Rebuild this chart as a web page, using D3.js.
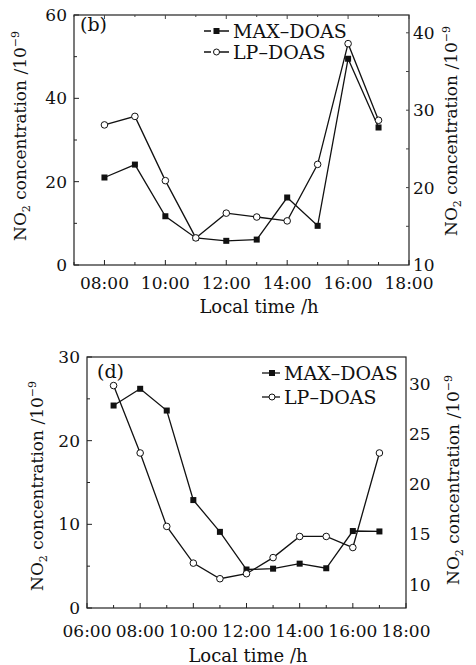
<!DOCTYPE html>
<html>
<head>
<meta charset="utf-8">
<script src="https://cdn.jsdelivr.net/npm/d3@7"></script>
<style>
body { margin: 0; background: #fff; }
svg text { font-family: "DejaVu Serif", "Liberation Serif", serif; fill: #111; }
</style>
</head>
<body>
<script>
// panel (b)
var hoursB = [8, 9, 10, 11, 12, 13, 14, 15, 16, 17];
var maxB = [21.0, 24.1, 11.7, 6.5, 5.8, 6.1, 16.2, 9.4, 49.5, 33.0];
var lpB = [28.1, 29.2, 20.9, 13.5, 16.7, 16.2, 15.7, 23.0, 38.6, 28.7];
var xTicksB = [8, 10, 12, 14, 16, 18];
var leftTicksB = [0, 20, 40, 60];
var rightTicksB = [10, 20, 30, 40];

// panel (d)
var hoursD = [7, 8, 9, 10, 11, 12, 13, 14, 15, 16, 17];
var maxD = [24.2, 26.2, 23.6, 12.9, 9.1, 4.6, 4.7, 5.3, 4.75, 9.2, 9.15];
var lpD = [29.8, 23.1, 15.8, 12.15, 10.6, 11.1, 12.7, 14.8, 14.8, 13.7, 23.1];
var xTicksD = [6, 8, 10, 12, 14, 16, 18];
var leftTicksD = [0, 10, 20, 30];
var rightTicksD = [10, 15, 20, 25, 30];

var seriesNames = ["MAX\u2013DOAS", "LP\u2013DOAS"];

var svg = d3.select("body").append("svg")
	.attr("width", 476)
	.attr("height", 665);

function hourLabel(h){
	return d3.format("02d")(h) + ":00";
}

function yTitle(g, x, y){
	var t = g.append("text")
		.attr("transform", "translate(" + x + "," + y + ") rotate(-90)")
		.attr("text-anchor", "middle")
		.style("font-size", "17px");
	t.append("tspan").text("NO");
	t.append("tspan").attr("dy", 4).style("font-size", "11px").text("2");
	t.append("tspan").attr("dy", -4).text(" concentration /10");
	t.append("tspan").attr("dy", -7).style("font-size", "11px").text("\u22129");
}

function drawPanel(p){
	var g = svg.append("g");
	var x = d3.scaleLinear().domain(p.xDomain).range([p.left, p.right]);
	var yL = d3.scaleLinear().domain(p.leftDomain).range([p.bottom, p.top]);
	var yR = d3.scaleLinear().domain(p.rightDomain).range([p.bottom, p.top]);

	// frame
	g.append("rect")
		.attr("x", p.left).attr("y", p.top)
		.attr("width", p.right - p.left).attr("height", p.bottom - p.top)
		.attr("fill", "none").attr("stroke", "#222").attr("stroke-width", 1.2);

	// x ticks (inward), minor every hour
	var hrs = d3.range(p.xDomain[0], p.xDomain[1] + 1);
	g.selectAll(".xt").data(hrs).enter().append("line")
		.attr("x1", function(d){ return x(d); })
		.attr("x2", function(d){ return x(d); })
		.attr("y1", p.bottom)
		.attr("y2", function(d){ return p.bottom - (d % 2 == 0 ? 5 : 3); })
		.attr("stroke", "#222");
	if(p.topTicks){
		g.selectAll(".xtt").data(hrs).enter().append("line")
			.attr("x1", function(d){ return x(d); })
			.attr("x2", function(d){ return x(d); })
			.attr("y1", p.top)
			.attr("y2", function(d){ return p.top + (d % 2 == 0 ? 4 : 2); })
			.attr("stroke", "#444");
	}
	g.selectAll(".xl").data(p.xTicks).enter().append("text")
		.attr("x", function(d){ return x(d); })
		.attr("y", p.xLabelY)
		.attr("text-anchor", "middle")
		.style("font-size", "17px")
		.text(hourLabel);

	// left ticks
	var step = p.leftTicks[1] - p.leftTicks[0];
	var lminor = d3.range(p.leftDomain[0], p.leftDomain[1] + 0.01, step / 2);
	g.selectAll(".yt").data(lminor).enter().append("line")
		.attr("x1", p.left)
		.attr("x2", function(d, i){ return p.left + (i % 2 == 0 ? 5 : 3); })
		.attr("y1", function(d){ return yL(d); })
		.attr("y2", function(d){ return yL(d); })
		.attr("stroke", "#222");
	g.selectAll(".yl").data(p.leftTicks).enter().append("text")
		.attr("x", p.left - 7)
		.attr("y", function(d){ return yL(d) + 6; })
		.attr("text-anchor", "end")
		.style("font-size", "17px")
		.text(function(d){ return d; });

	// right ticks
	if(p.rightMinor){
		g.selectAll(".rt").data(p.rightMinor).enter().append("line")
			.attr("x1", p.right)
			.attr("x2", p.right - 3)
			.attr("y1", function(d){ return yR(d); })
			.attr("y2", function(d){ return yR(d); })
			.attr("stroke", "#444");
	}
	g.selectAll(".rl").data(p.rightTicks).enter().append("text")
		.attr("x", p.right + p.rightGap)
		.attr("y", function(d){ return yR(d) + 6; })
		.attr("text-anchor", "start")
		.style("font-size", "17px")
		.text(function(d){ return d; });

	// lines
	var lineL = d3.line()
		.x(function(d, i){ return x(p.hours[i]); })
		.y(function(d){ return yL(d); });
	var lineR = d3.line()
		.x(function(d, i){ return x(p.hours[i]); })
		.y(function(d){ return yR(d); });
	g.append("path").attr("d", lineR(p.lp))
		.attr("fill", "none").attr("stroke", "#111").attr("stroke-width", 1.3);
	g.append("path").attr("d", lineL(p.max))
		.attr("fill", "none").attr("stroke", "#111").attr("stroke-width", 1.3);

	g.selectAll(".sq").data(p.max).enter().append("rect")
		.attr("x", function(d, i){ return x(p.hours[i]) - 3; })
		.attr("y", function(d){ return yL(d) - 3; })
		.attr("width", 6).attr("height", 6)
		.attr("fill", "#111");
	g.selectAll(".ci").data(p.lp).enter().append("circle")
		.attr("cx", function(d, i){ return x(p.hours[i]); })
		.attr("cy", function(d){ return yR(d); })
		.attr("r", 3.3)
		.attr("fill", "#fff").attr("stroke", "#111").attr("stroke-width", 1);

	// panel letter
	g.append("text")
		.attr("x", p.letterX).attr("y", p.letterY)
		.style("font-size", "19px")
		.text(p.letter);

	// legend
	seriesNames.forEach(function(name, i){
		var ly = p.legendY + i * p.legendGap;
		g.append("line")
			.attr("x1", p.legendX1).attr("x2", p.legendX2)
			.attr("y1", ly).attr("y2", ly)
			.attr("stroke", "#111").attr("stroke-width", 1.3)
			.attr("stroke-dasharray", p.legendDash);
		var mx = (p.legendX1 + p.legendX2) / 2 + p.legendMarkOff;
		if(i == 0){
			g.append("rect").attr("x", mx - 3).attr("y", ly - 3)
				.attr("width", 6).attr("height", 6).attr("fill", "#111");
		}
		else{
			g.append("circle").attr("cx", mx).attr("cy", ly).attr("r", 3)
				.attr("fill", "#fff").attr("stroke", "#111");
		}
		g.append("text")
			.attr("x", p.legendX2 + 4).attr("y", ly + 7)
			.style("font-size", "19px")
			.text(name);
	});

	// axis titles
	g.append("text")
		.attr("x", p.xTitleX).attr("y", p.xTitleY)
		.attr("text-anchor", "middle")
		.style("font-size", "18px")
		.text("Local time /h");
	yTitle(g, p.yTitleLX, p.yTitleLY);
	yTitle(g, p.yTitleRX, p.yTitleRY);
}

drawPanel({
	hours: hoursB, max: maxB, lp: lpB,
	xTicks: xTicksB, leftTicks: leftTicksB, rightTicks: rightTicksB,
	xDomain: [7, 18], leftDomain: [0, 60], rightDomain: [10, 42.3],
	rightMinor: [15, 20, 25, 30, 35, 40],
	left: 74, right: 409, top: 15, bottom: 265,
	topTicks: true,
	xLabelY: 289, rightGap: 4,
	letter: "(b)", letterX: 80, letterY: 31,
	legendX1: 204, legendX2: 229, legendMarkOff: 0, legendDash: "7,4,14,4,7",
	legendY: 31, legendGap: 21,
	xTitleX: 259, xTitleY: 313,
	yTitleLX: 26, yTitleLY: 136,
	yTitleRX: 457, yTitleRY: 131
});

drawPanel({
	hours: hoursD, max: maxD, lp: lpD,
	xTicks: xTicksD, leftTicks: leftTicksD, rightTicks: rightTicksD,
	xDomain: [6, 18], leftDomain: [0, 30], rightDomain: [7.69, 32.64],
	rightMinor: null,
	left: 87, right: 406, top: 357, bottom: 608,
	topTicks: false,
	xLabelY: 637, rightGap: 3,
	letter: "(d)", letterX: 97, letterY: 378,
	legendX1: 262, legendX2: 280, legendMarkOff: 1, legendDash: null,
	legendY: 373, legendGap: 24,
	xTitleX: 248, xTitleY: 662,
	yTitleLX: 43, yTitleLY: 486,
	yTitleRX: 459, yTitleRY: 480
});
</script>
</body>
</html>
